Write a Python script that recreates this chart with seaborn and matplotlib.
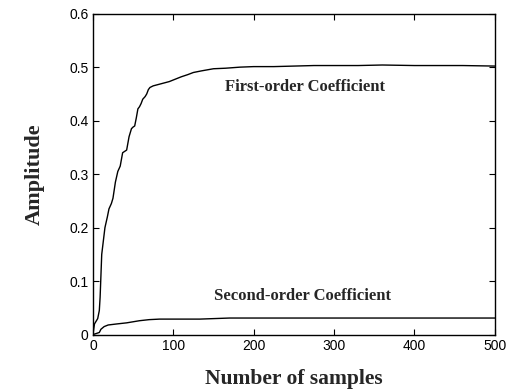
import matplotlib
matplotlib.use("Agg")
import matplotlib.pyplot as plt
import seaborn as sns
import pandas as pd

# Data
first_x = [0, 2, 4, 6, 8, 9, 10, 11, 13, 15, 18, 20, 23, 25, 28, 31, 34, 37, 40, 42, 45, 48, 50, 52,
           54, 56, 58, 60, 62, 65, 67, 69, 71, 75, 80, 85, 90, 95, 100, 110, 118, 125, 135, 150,
           165, 183, 200, 225, 250, 275, 300, 330, 360, 400, 430, 460, 500]
first_y = [0.0, 0.02, 0.025, 0.03, 0.045, 0.07, 0.11, 0.15, 0.175, 0.20, 0.22, 0.235, 0.245, 0.255,
           0.285, 0.305, 0.315, 0.34, 0.343, 0.345, 0.37, 0.385, 0.388, 0.39, 0.405, 0.422, 0.426,
           0.432, 0.44, 0.445, 0.45, 0.458, 0.462, 0.465, 0.467, 0.469, 0.471, 0.473, 0.476, 0.482,
           0.486, 0.49, 0.493, 0.497, 0.498, 0.5, 0.501, 0.501, 0.502, 0.503, 0.503, 0.503, 0.504,
           0.503, 0.503, 0.503, 0.502]

second_x = [0, 8, 10, 14, 19, 30, 42, 50, 58, 70, 83, 100, 133, 170, 200, 300, 400, 500]
second_y = [0.0, 0.004, 0.01, 0.015, 0.018, 0.02, 0.022, 0.024, 0.026, 0.028, 0.029, 0.029,
            0.029, 0.031, 0.031, 0.031, 0.031, 0.031]

x_ticks = [0, 100, 200, 300, 400, 500]
y_ticks = [0, 0.1, 0.2, 0.3, 0.4, 0.5, 0.6]
y_tick_labels = ["0", "0.1", "0.2", "0.3", "0.4", "0.5", "0.6"]

sns.set_style("ticks")
plt.rcParams["font.family"] = ["Liberation Sans", "DejaVu Sans"]

fig = plt.figure(figsize=(5.16, 3.90), dpi=100)
ax = fig.add_axes([0.180, 0.142, 0.779, 0.823])

df1 = pd.DataFrame({"x": first_x, "y": first_y})
df2 = pd.DataFrame({"x": second_x, "y": second_y})
sns.lineplot(data=df1, x="x", y="y", ax=ax, color="black", linewidth=1.0)
sns.lineplot(data=df2, x="x", y="y", ax=ax, color="black", linewidth=1.0)

ax.set_xlim(0, 500)
ax.set_ylim(0, 0.6)
ax.set_xticks(x_ticks)
ax.set_xticklabels([str(t) for t in x_ticks])
ax.set_yticks(y_ticks)
ax.set_yticklabels(y_tick_labels)
ax.tick_params(direction="in", top=True, right=True, length=4, width=0.8,
               labelsize=10, colors="black", pad=3)
for s in ax.spines.values():
    s.set_linewidth(1.0)
    s.set_color("black")
    s.set_visible(True)

serif = ["Liberation Serif", "DejaVu Serif"]
ax.set_xlabel("Number of samples", fontfamily=serif, fontweight="bold", fontsize=15.5, labelpad=12)
ax.set_ylabel("Amplitude", fontfamily=serif, fontweight="bold", fontsize=16, labelpad=18)

ax.text(264, 0.463, "First-order Coefficient", fontfamily=serif, fontweight="bold",
        fontsize=12, ha="center", va="center")
ax.text(261, 0.072, "Second-order Coefficient", fontfamily=serif, fontweight="bold",
        fontsize=12, ha="center", va="center")

fig.savefig("out.png", dpi=100, facecolor="white")
